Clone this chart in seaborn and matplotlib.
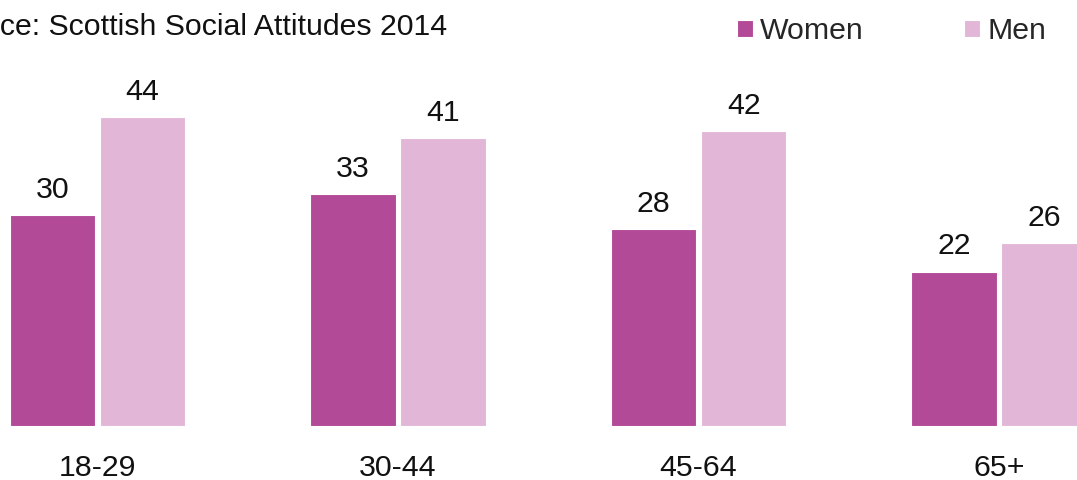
import pandas as pd
import matplotlib
matplotlib.use("Agg")
import matplotlib.pyplot as plt
import seaborn as sns

# values
age_groups = ["18-29", "30-44", "45-64", "65+"]
women = [30, 33, 28, 22]
men = [44, 41, 42, 26]
source_text = "Source: Scottish Social Attitudes 2014"

women_col = "#b34a98"
men_col = "#e2b6d6"

df = pd.DataFrame({
    "Age": age_groups * 2,
    "Percent": women + men,
    "Sex": ["Women"] * len(women) + ["Men"] * len(men),
})

sns.set_theme(style="white")
plt.rcParams["font.family"] = ["Liberation Sans", "DejaVu Sans"]

W, H = 1077, 480
fs = 21.8
fig = plt.figure(figsize=(W / 100, H / 100), dpi=100)
bottom_px = 426
ax = fig.add_axes([0, (H - bottom_px) / H, 1, bottom_px / H])

sns.barplot(data=df, x="Age", y="Percent", hue="Sex", order=age_groups,
            hue_order=["Women", "Men"], palette=[women_col, men_col],
            width=0.6, gap=0.05, saturation=1, edgecolor="white",
            linewidth=0.8, ax=ax)

for cont in ax.containers:
    ax.bar_label(cont, padding=8, fontsize=fs, color="#111111")

# place category centres and baseline to match the reference crop
px_per_cat = 300.5
left_px = 97.5
ax.set_xlim(-left_px / px_per_cat, (W - left_px) / px_per_cat)
ax.set_ylim(0, bottom_px / 7.02)

ax.set_xlabel("")
ax.set_ylabel("")
ax.set_yticks([])
ax.tick_params(axis="x", length=0, pad=20, labelsize=fs, labelcolor="#111111")
sns.despine(ax=ax, left=True, bottom=True)

handles, labels = ax.get_legend_handles_labels()
ax.legend(handles, labels, ncol=2, frameon=False, fontsize=fs,
          loc="upper right", bbox_to_anchor=(1058 / W, 1 - 5 / H),
          bbox_transform=fig.transFigure, handlelength=0.52, handleheight=0.52,
          handletextpad=0.24, columnspacing=3.3, borderaxespad=0)

fig.text(447 / W, 1 - 27 / H, source_text, ha="right", va="center",
         fontsize=fs, color="#111111")

fig.savefig("out.png", dpi=100)
